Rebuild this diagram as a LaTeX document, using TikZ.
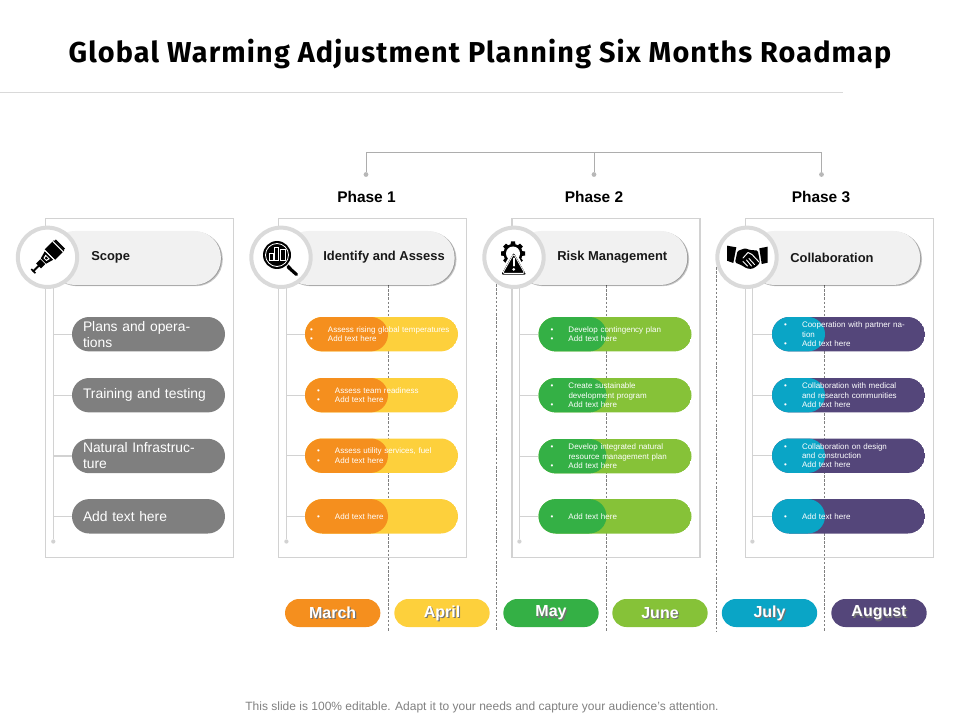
\documentclass[tikz,border=0pt]{standalone}
\usepackage{fontspec}
\setmainfont{Liberation Sans}
\newfontfamily\titlefont[LetterSpace=4.0]{Fira Sans}
\usetikzlibrary{shadows,calc}
\definecolor{cOrange}{HTML}{F58F1E}
\definecolor{cYellow}{HTML}{FDD03C}
\definecolor{cGreen}{HTML}{34B045}
\definecolor{cLime}{HTML}{86C238}
\definecolor{cTeal}{HTML}{0AA5C6}
\definecolor{cPurple}{HTML}{54467A}
\definecolor{cGrey}{HTML}{7F7F7F}
\definecolor{cLine}{HTML}{D2D2D2}
\definecolor{cRing}{HTML}{DADADA}
\definecolor{cHead}{HTML}{F1F1F1}
\newlength{\bulind}\setlength{\bulind}{13.5pt}
\newcommand{\bl}[1]{\hangindent=\bulind\hangafter=1\noindent\makebox[\bulind][l]{•}#1\par}
\tikzset{
 x=0.75pt,y=-0.75pt,
 conn/.style={draw=cLine,line width=0.8pt},
 tree/.style={draw=black!32,line width=0.75pt},
 dashline/.style={draw=black!50,line width=0.55pt,dash pattern=on 1.9pt off 1.2pt},
 panelbox/.style={rectangle,draw=cLine,line width=0.8pt,minimum width=141pt,minimum height=254pt,inner sep=0pt},
 headpill/.style={rectangle,rounded corners=20pt,fill=cHead,minimum height=40.5pt,inner sep=0pt,
   drop shadow={shadow xshift=1.4pt,shadow yshift=-0.9pt,opacity=.22,fill=black},
   drop shadow={shadow xshift=0.7pt,shadow yshift=-0.4pt,opacity=.22,fill=black}},
 ringc/.style={circle,fill=white,draw=cRing,line width=3pt,minimum size=44.5pt,inner sep=0pt},
 headlabel/.style={anchor=west,inner sep=0pt,font=\fontsize{9.7}{11}\selectfont\bfseries,text=black!90},
 phaselabel/.style={inner sep=0pt,font=\fontsize{11.6}{13}\selectfont\bfseries},
 tdot/.style={circle,fill=black!28,minimum size=3.6pt,inner sep=0pt},
 sdot/.style={circle,fill=cLine,minimum size=3.2pt,inner sep=0pt},
 pillbase/.style={rectangle,rounded corners=12.9pt,minimum width=114.75pt,minimum height=25.8pt,inner ysep=0pt},
 greypill/.style={pillbase,fill=cGrey,text=white,inner xsep=8.25pt,text width=98.25pt,align=left,
   font=\fontsize{10.4}{12}\selectfont},
 splitpill/.style n args={3}{pillbase,inner xsep=9pt,text width=96.75pt,align=left,text=white,
   font=\fontsize{6}{6.9}\selectfont,
   path picture={
     \fill[#2] (path picture bounding box.south west) rectangle (path picture bounding box.north east);
     \fill[#1] (path picture bounding box.south west) rectangle ([xshift=#3]path picture bounding box.north west);
   }},
 rowone/.style={inner xsep=3.75pt,text width=107.25pt},
 monthpill/.style={rectangle,rounded corners=10.5pt,minimum width=71.5pt,minimum height=21pt,inner sep=0pt,
   text=white,font=\fontsize{12}{14}\selectfont\bfseries},
 monthshadow/.style={inner sep=0pt,text=black!55,font=\fontsize{12}{14}\selectfont\bfseries},
}
\begin{document}
\begin{tikzpicture}
\useasboundingbox (0,0) rectangle (960,720);
% title
\node[inner sep=0pt,font=\titlefont\fontsize{21.6}{26}\selectfont\bfseries] (title) at (480,54) {Global Warming Adjustment Planning Six Months Roadmap};
\coordinate (ruleL) at (0,92.5); \coordinate (ruleR) at (843,92.5);
\draw[draw=black!15,line width=0.7pt] (ruleL) -- (ruleR);
% phase tree
\node[tdot] (d1) at (366,174.5) {};
\node[tdot] (d2) at (594,174.5) {};
\node[tdot] (d3) at (821.5,174.5) {};
\coordinate (treeTop) at (594,152.7);
\draw[tree] (d1) |- (treeTop) -- (d2);
\draw[tree] (d3) |- (treeTop);
\node[phaselabel] (ph1) at (366.5,196.5) {Phase 1};
\node[phaselabel] (ph2) at (594,196.5) {Phase 2};
\node[phaselabel] (ph3) at (821,196.5) {Phase 3};
% panels
\node[panelbox] (pa) at (139.5,388) {};
\node[panelbox] (pb) at (372.5,388) {};
\node[panelbox] (pc) at (606,388) {};
\node[panelbox] (pd) at (839.5,388) {};
% dashed month dividers
\coordinate (t1) at (388,285); \coordinate (b1) at (388,631);
\coordinate (t2) at (496.7,280); \coordinate (b2) at (496.7,631);
\coordinate (t3) at (606,285); \coordinate (b3) at (606,631);
\coordinate (t4) at (716.7,267); \coordinate (b4) at (716.7,631);
\coordinate (t5) at (824.8,285); \coordinate (b5) at (824.8,631);
\foreach \i in {1,...,5} \draw[dashline] (t\i) -- (b\i);
% header pills
\node[headpill,minimum width=129.5pt] (ha) at (134.6,258) {};
\node[headpill,minimum width=129.5pt] (hb) at (368.3,258) {};
\node[headpill,minimum width=129.5pt] (hc) at (600.9,258) {};
\node[headpill,minimum width=129.5pt] (hd) at (833.8,258) {};
% spines
\node[sdot] (sa) at (53.3,541.5) {};
\node[sdot] (sb) at (286.4,541.5) {};
\node[sdot] (sc) at (519.4,541.5) {};
\node[sdot] (sd) at (752.4,541.5) {};
\coordinate (sat) at (53.3,280); \coordinate (sbt) at (286.4,280);
\coordinate (sct) at (519.4,280); \coordinate (sdt) at (752.4,280);
\foreach \s in {a,b,c,d} \draw[conn] (s\s t) -- (s\s);
% rings
\node[ringc] (ca) at (47.5,257.3) {};
\node[ringc] (cb) at (281,257.3) {};
\node[ringc] (cc) at (514,257.3) {};
\node[ringc] (cd) at (747,257.3) {};
\node[headlabel] (la) at (91,257.5) {Scope};
\node[headlabel] (lb) at (323,257.5) {Identify and Assess};
\node[headlabel] (lc) at (557,257.5) {Risk Management};
\node[headlabel] (ld) at (790,257.5) {Collaboration};
% panel 1 pills
\node[greypill] (a1) at (148.5,334.2) {Plans and operations};
\node[greypill] (a2) at (148.5,395.2) {Training and testing};
\node[greypill] (a3) at (148.5,456) {Natural Infrastructure};
\node[greypill] (a4) at (148.5,516.3) {Add text here};
% panel 2 pills
\node[splitpill={cOrange}{cYellow}{62.25pt},rowone] (b1p) at (381.5,334.2) {\bl{Assess rising global temperatures}\bl{Add text here}};
\node[splitpill={cOrange}{cYellow}{62.25pt}] (b2p) at (381.5,395.2) {\bl{Assess team readiness}\bl{Add text here}};
\node[splitpill={cOrange}{cYellow}{62.25pt}] (b3p) at (381.5,455.7) {\bl{Assess utility services, fuel}\bl{Add text here}};
\node[splitpill={cOrange}{cYellow}{62.25pt}] (b4p) at (381.5,516.3) {\bl{Add text here}};
% panel 3 pills
\node[splitpill={cGreen}{cLime}{51pt}] (c1p) at (615,334.2) {\bl{Develop contingency plan}\bl{Add text here}};
\node[splitpill={cGreen}{cLime}{51pt}] (c2p) at (615,395.2) {\bl{Create sustainable\newline development program}\bl{Add text here}};
\node[splitpill={cGreen}{cLime}{51pt}] (c3p) at (615,456.2) {\bl{Develop integrated natural\newline resource management plan}\bl{Add text here}};
\node[splitpill={cGreen}{cLime}{51pt}] (c4p) at (615,516.3) {\bl{Add text here}};
% panel 4 pills
\node[splitpill={cTeal}{cPurple}{39.75pt}] (d1p) at (848.5,334.2) {\bl{Cooperation with partner nation}\bl{Add text here}};
\node[splitpill={cTeal}{cPurple}{39.75pt}] (d2p) at (848.5,395.2) {\bl{Collaboration with medical\newline and research communities}\bl{Add text here}};
\node[splitpill={cTeal}{cPurple}{39.75pt}] (d3p) at (848.5,455.7) {\bl{Collaboration on design\newline and construction}\bl{Add text here}};
\node[splitpill={cTeal}{cPurple}{39.75pt}] (d4p) at (848.5,516.3) {\bl{Add text here}};
% branches
\foreach \n in {a1,a2,a3,a4} \draw[conn] (\n.west -| sa) -- (\n.west);
\foreach \n in {b1p,b2p,b3p,b4p} \draw[conn] (\n.west -| sb) -- (\n.west);
\foreach \n in {c1p,c2p,c3p,c4p} \draw[conn] (\n.west -| sc) -- (\n.west);
\foreach \n in {d1p,d2p,d3p,d4p} \draw[conn] (\n.west -| sd) -- (\n.west);
% months
\node[monthpill,fill=cOrange] (m1) at (332.7,613) {};
\node[monthpill,fill=cYellow] (m2) at (442,613) {};
\node[monthpill,fill=cGreen] (m3) at (551,613) {};
\node[monthpill,fill=cLime] (m4) at (660,613) {};
\node[monthpill,fill=cTeal] (m5) at (769.5,613) {};
\node[monthpill,fill=cPurple] (m6) at (879,613) {};
\foreach \n/\t in {m1/March,m2/April,m3/May,m4/June,m5/July,m6/August}{
  \node[monthshadow] (\n s) at ([xshift=0.9pt,yshift=-0.9pt]\n.center) {\t};
  \node[inner sep=0pt,text=white,font=\fontsize{12}{14}\selectfont\bfseries] (\n t) at (\n.center) {\t};
}
% footer
\node[inner sep=0pt,text=black!50,font=\fontsize{9}{11}\selectfont] (foot) at (482,707) {This slide is 100\% editable. Adapt it to your needs and capture your audience's attention.};
% icon: telescope
\begin{scope}[shift={(47,257.5)},rotate=45]
 \fill[black] (-20,-1) rectangle (-11,1);
 \fill[black] (-20,-3) rectangle (-18.5,3);
 \fill[black] (-12,-3.5) rectangle (-6,3.5);
 \fill[black] (-5,-3.8) -- (3,-6) -- (3,6) -- (-5,3.8) -- cycle;
 \fill[black] (4,-7.3) rectangle (17,7.3);
 \fill[white] (15,-7.5) rectangle (16,7.5);
 \fill[white] (3,-7.5) rectangle (4,7.5);
 \fill[white] (-3,-2) -- (1,-3) -- (1,3) -- (-3,2) -- cycle;
 \fill[black] (-2,-1) -- (0,-1.5) -- (0,1.5) -- (-2,1) -- cycle;
 \fill[black] (17,-6.5) rectangle (19,6.5);
\end{scope}
% icon: magnifier
\draw[black,line width=2.4pt,line cap=round] (288,267) -- (296.5,274.5);
\draw[black,line width=0.8pt] (288,265) -- (291,268);
\fill[black] (277,255) circle (14);
\draw[white,line width=0.6pt] (277,255) circle (11.5);
\foreach \bx/\by in {269/253,274.2/247,280.6/249}
  \draw[white,line width=0.7pt,fill=black] (\bx,\by) rectangle ++(4.4,{260-\by});
% icon: gear and warning triangle
\foreach \a in {0,45,...,315}
  \fill[black,shift={(513,253.5)},rotate=\a] (-2.6,-8) -- (-2,-12) -- (2,-12) -- (2.6,-8) -- cycle;
\fill[black] (513,253.5) circle (9.6);
\fill[white] (513,253.5) circle (7);
\draw[white,line width=1.5pt,fill=black,line join=round,rounded corners=2.4pt] (513.7,250.5) -- (499.4,275.6) -- (528,275.6) -- cycle;
\draw[white,line width=0.6pt,rounded corners=1.5pt] (513.7,254) -- (502.6,273.4) -- (524.8,273.4) -- cycle;
\draw[white,line width=1.6pt,line cap=round] (513.7,258.5) -- (513.7,265.5);
\fill[white] (513.7,269.3) circle (1.5);
% icon: handshake
\fill[black] (727,245.7) -- (736.3,247.3) -- (733.3,263) -- (727,260.7) -- cycle;
\fill[black] (767.7,246.7) -- (759.3,248.3) -- (761.7,264) -- (767.7,262.7) -- cycle;
\fill[black,rounded corners=1pt] (737.5,251) -- (745,248.3) -- (750,250) -- (757.8,250.5) -- (760,262.5) -- (757,266) -- (752,269) -- (747,268.5) -- (741,265) -- (735,262.5) -- cycle;
\draw[white,line width=0.7pt,line cap=round,line join=round] (743,258) -- (748,252.5) -- (752,254.5) -- (759,262);
\draw[white,line width=0.7pt,line cap=round] (749,258.5) -- (754.5,264.5);
\draw[white,line width=0.7pt,line cap=round] (746.5,260) -- (751.5,266);
\draw[white,line width=0.7pt,line cap=round] (743,261.5) -- (747.5,266);
\end{tikzpicture}
\end{document}
